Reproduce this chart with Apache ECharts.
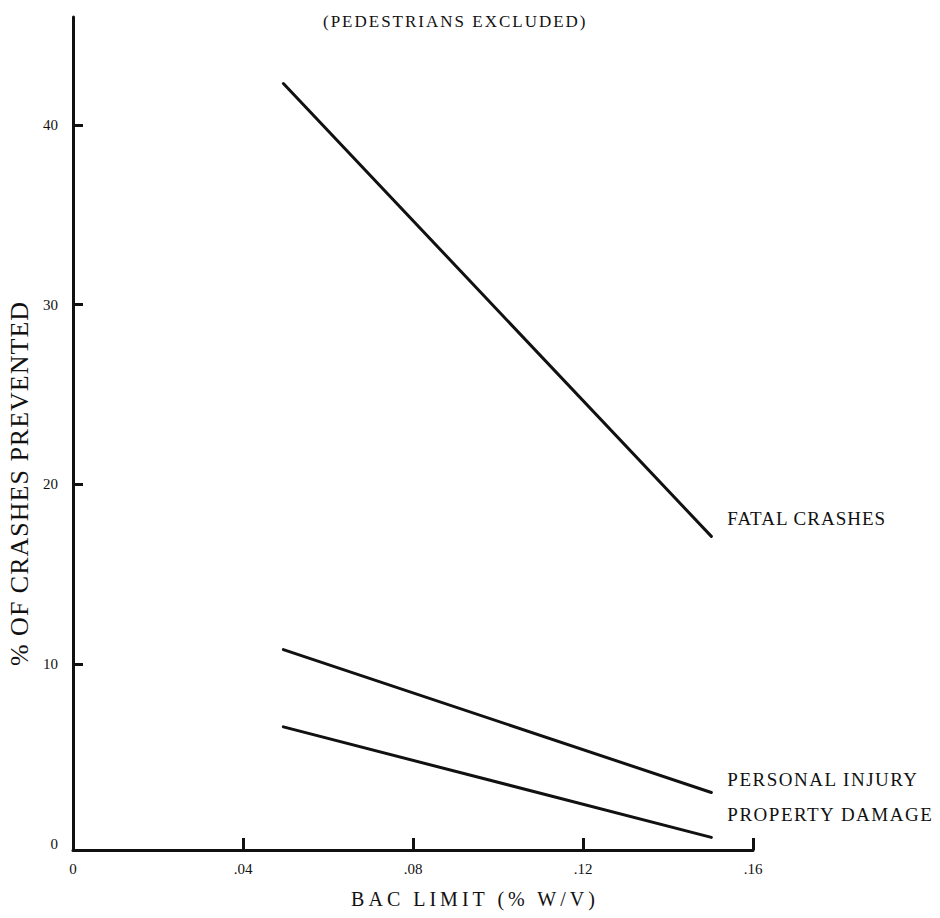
<!DOCTYPE html>
<html>
<head>
<meta charset="utf-8">
<script src="https://cdn.jsdelivr.net/npm/echarts@6/dist/echarts.min.js"></script>
<style>
  html, body { margin: 0; padding: 0; background: #fff; }
  #chart { width: 940px; height: 918px; }
</style>
</head>
<body>
<div id="chart"></div>
<script>
// ---- data ----
const titleText = '(PEDESTRIANS EXCLUDED)';
const xAxisName = 'BAC LIMIT (% W/V)';
const yAxisName = '% OF CRASHES PREVENTED';
const bacLimits = [0.0495, 0.1502];           // x: BAC limit (% w/v)
const seriesNames = ['FATAL CRASHES', 'PERSONAL INJURY', 'PROPERTY DAMAGE'];
const fatalCrashes = [42.3, 17.1];
const personalInjury = [10.8, 2.85];
const propertyDamage = [6.5, 0.35];
const xTicks = [0, 0.04, 0.08, 0.12, 0.16];
const yTickLabels = [0, 10, 20, 30, 40];

const FONT = 'Liberation Serif';
const INK = '#111';

function pairs(vals) { return bacLimits.map((x, i) => [x, vals[i]]); }

const labelOffsets = [[0, -18], [0, -13], [0, -23]];
const allValues = [fatalCrashes, personalInjury, propertyDamage];

const chart = echarts.init(document.getElementById('chart'), null, { renderer: 'svg' });

const option = {
  animation: false,
  backgroundColor: '#fff',
  title: {
    text: titleText,
    left: 318, top: 8,
    textStyle: { fontFamily: FONT, fontSize: 17, fontWeight: 'normal', color: INK }
  },
  grid: { left: 73, right: 187, top: 17, bottom: 68, containLabel: false, outerBoundsMode: 'none' },
  xAxis: {
    type: 'value',
    min: 0, max: 0.16, interval: 0.04,
    name: xAxisName,
    nameLocation: 'middle',
    nameGap: 39,
    nameTextStyle: { fontFamily: FONT, fontSize: 20, color: INK, padding: [0, 0, 0, 124] },
    axisLine: { onZero: false, lineStyle: { color: INK, width: 3 } },
    axisTick: { show: true, inside: true, length: 12, lineStyle: { color: INK, width: 3 } },
    axisLabel: {
      margin: 11,
      fontFamily: FONT, fontSize: 15, color: INK,
      formatter: v => v === 0 ? '0' : v.toFixed(2).replace(/^0/, '')
    },
    splitLine: { show: false }
  },
  yAxis: {
    type: 'value',
    min: -0.35, max: 46,
    name: yAxisName,
    nameLocation: 'middle',
    nameGap: 38,
    nameTextStyle: { fontFamily: FONT, fontSize: 26, color: INK, padding: [0, 100, 0, 0] },
    axisLine: { onZero: false, lineStyle: { color: INK, width: 3 } },
    axisTick: { show: true, inside: true, length: 10, customValues: yTickLabels.filter(v => v > 0), lineStyle: { color: INK, width: 3 } },
    axisLabel: { margin: 15, fontFamily: FONT, fontSize: 15, color: INK, customValues: yTickLabels },
    splitLine: { show: false }
  },
  series: seriesNames.map((name, i) => ({
    name,
    type: 'line',
    data: pairs(allValues[i]),
    symbol: 'none',
    lineStyle: { color: INK, width: 3, cap: 'round' },
    endLabel: {
      show: true,
      formatter: '{a}',
      distance: 16,
      offset: labelOffsets[i],
      fontFamily: FONT, fontSize: 19, color: INK
    }
  }))
};
chart.setOption(option);

// letter spacing of the typeset labels (SVG text attribute)
const spacing = {};
spacing[titleText] = '2px';
spacing[xAxisName] = '4px';
spacing[yAxisName] = '1px';
spacing['FATAL CRASHES'] = '1px';
spacing['PERSONAL INJURY'] = '1.5px';
spacing['PROPERTY DAMAGE'] = '1.5px';
function applySpacing() {
  document.querySelectorAll('#chart text').forEach(t => {
    const s = spacing[t.textContent.trim()];
    if (s) t.setAttribute('letter-spacing', s);
  });
}
chart.on('finished', applySpacing);
applySpacing();
setTimeout(applySpacing, 30);
setTimeout(applySpacing, 200);
</script>
</body>
</html>
